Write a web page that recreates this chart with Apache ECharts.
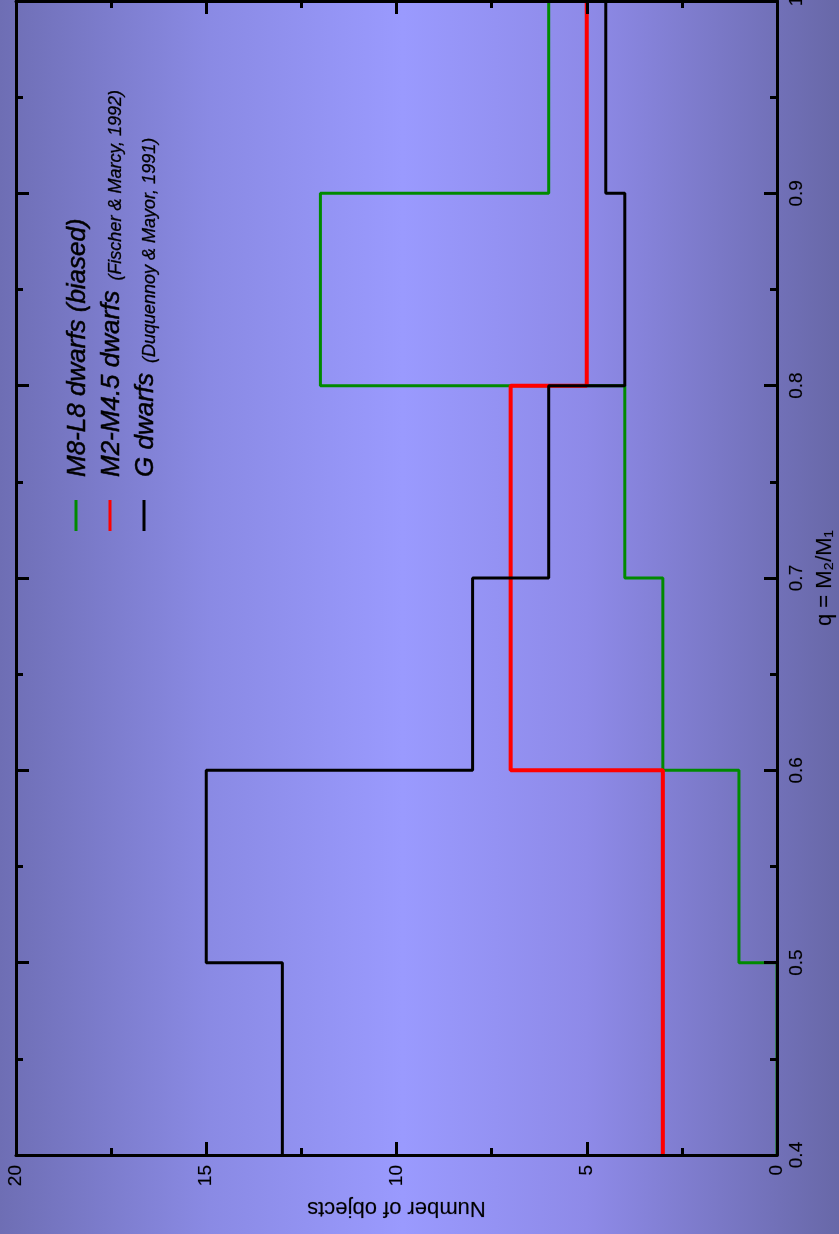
<!DOCTYPE html>
<html>
<head>
<meta charset="utf-8">
<script src="https://cdn.jsdelivr.net/npm/echarts@6/dist/echarts.min.js"></script>
<style>
html,body{margin:0;padding:0;}
body{width:839px;height:1234px;overflow:hidden;
background:linear-gradient(to right,#6e6eb4 0%,#8a8ae4 25%,#9a9afe 48%,#8e8ae8 70%,#6868a8 100%);}
#chart{width:839px;height:1234px;}
</style>
</head>
<body>
<div id="chart"></div>
<script>
// q = M2/M1 bin edges
const qEdges = [0.4, 0.5, 0.6, 0.7, 0.8, 0.9, 1.0];
// Number of objects per bin
const m8L8 = [0, 1, 3, 4, 12, 6];          // M8-L8 dwarfs (biased)
const m2M45 = [3, 3, 7, 7, 5, 5];          // M2-M4.5 dwarfs (Fischer & Marcy, 1992)
const gDwarfs = [13, 15, 8, 6, 4, 4.5];    // G dwarfs (Duquennoy & Mayor, 1991)
const numTicks = [0, 5, 10, 15, 20];
const qTicks = [0.4, 0.5, 0.6, 0.7, 0.8, 0.9, 1.0];

function histPoints(vals) {
  const pts = [];
  vals.forEach((v, i) => {
    pts.push([v, qEdges[i]]);
    pts.push([v, qEdges[i + 1]]);
  });
  return pts;
}

const FONT = '"Liberation Sans", Arial, Helvetica, sans-serif';
const lineBlack = {color: '#000', width: 3};

const chart = echarts.init(document.getElementById('chart'), null, {renderer: 'canvas'});

const baseX = {
  type: 'value', min: numTicks[0], max: numTicks[numTicks.length - 1], interval: 5,
  inverse: true, z: 5,
  splitLine: {show: false},
  axisLine: {show: true, onZero: false, lineStyle: lineBlack},
  axisTick: {show: true, inside: true, length: 13, lineStyle: lineBlack},
  minorTick: {show: true, splitNumber: 2, length: 7, lineStyle: lineBlack}
};
const baseY = {
  type: 'value', min: qTicks[0], max: qTicks[qTicks.length - 1], interval: 0.1,
  z: 5,
  splitLine: {show: false},
  axisLine: {show: true, onZero: false, lineStyle: lineBlack},
  axisTick: {show: true, inside: true, length: 13, lineStyle: lineBlack},
  minorTick: {show: true, splitNumber: 2, length: 7, lineStyle: lineBlack}
};

const legendItems = [
  {x: 76, color: '#008a00', main: 'M8-L8 dwarfs (biased)', small: ''},
  {x: 110, color: '#ff0000', main: 'M2-M4.5 dwarfs', small: '(Fischer & Marcy, 1992)'},
  {x: 144, color: '#000000', main: 'G dwarfs', small: '(Duquennoy & Mayor, 1991)'}
];
const graphics = [];
legendItems.forEach(it => {
  graphics.push({
    type: 'line', z: 10,
    shape: {x1: it.x, y1: 500, x2: it.x, y2: 531},
    style: {stroke: it.color, lineWidth: 3}
  });
  graphics.push({
    type: 'text', z: 10, x: it.x + 1, y: 477, rotation: Math.PI / 2,
    style: {
      text: '{b|' + it.main + '}' + (it.small ? '{s|  ' + it.small + '}' : ''),
      align: 'left', verticalAlign: 'middle', fill: '#000',
      rich: {
        b: {fontSize: 26, fontStyle: 'italic', fontFamily: FONT, fill: '#000', lineHeight: 28, verticalAlign: 'bottom',
            stroke: '#000', lineWidth: 0.5},
        s: {fontSize: 18, fontStyle: 'italic', fontFamily: FONT, fill: '#000', lineHeight: 28, verticalAlign: 'bottom',
            stroke: '#000', lineWidth: 0.3}
      }
    }
  });
});

const labelStyle = {show: true, rotate: 90, margin: 10, fontSize: 19, fontFamily: FONT, color: '#000',
  textBorderColor: 'rgba(0,0,0,0.3)', textBorderWidth: 0.5};

chart.setOption({
  animation: false,
  backgroundColor: 'transparent',
  grid: {left: 16, right: 62, top: 1, bottom: 79, containLabel: false, outerBoundsMode: 'none'},
  xAxis: [
    Object.assign({}, baseX, {
      position: 'bottom',
      name: 'Number of objects', nameLocation: 'middle', nameRotate: 180, nameGap: 42,
      nameTextStyle: {fontSize: 22, fontFamily: FONT, color: '#000', textBorderColor: 'rgba(0,0,0,0.3)', textBorderWidth: 0.5},
      axisLabel: labelStyle
    }),
    Object.assign({}, baseX, {position: 'top', axisLabel: {show: false}})
  ],
  yAxis: [
    Object.assign({}, baseY, {
      position: 'right',
      name: 'q = M\u2082/M\u2081', nameLocation: 'middle', nameRotate: 90, nameGap: 34,
      nameTextStyle: {fontSize: 22, fontFamily: FONT, color: '#000', textBorderColor: 'rgba(0,0,0,0.3)', textBorderWidth: 0.5},
      axisLabel: labelStyle
    }),
    Object.assign({}, baseY, {position: 'left', axisLabel: {show: false}})
  ],
  series: [
    {type: 'line', name: 'M8-L8', symbol: 'none', data: histPoints(m8L8),
     lineStyle: {color: '#008a00', width: 3}, z: 2},
    {type: 'line', name: 'M2-M4.5', symbol: 'none', data: histPoints(m2M45),
     lineStyle: {color: '#ff0000', width: 4}, z: 3},
    {type: 'line', name: 'G', symbol: 'none', data: histPoints(gDwarfs),
     lineStyle: {color: '#000000', width: 3}, z: 4}
  ],
  graphic: graphics
});
</script>
</body>
</html>
